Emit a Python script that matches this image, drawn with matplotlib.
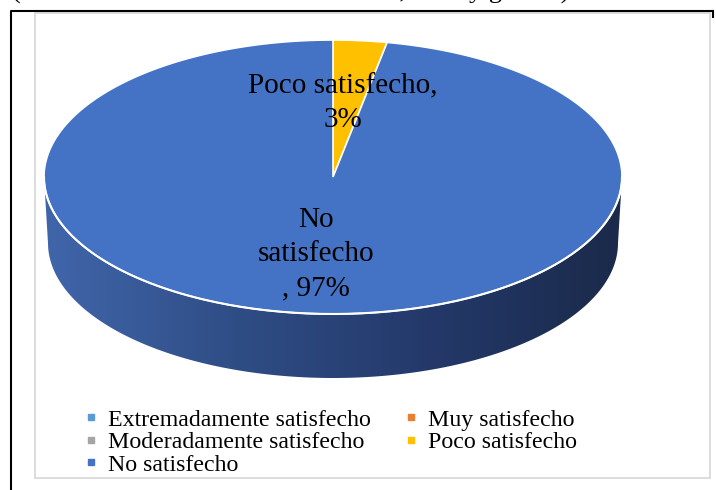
import numpy as np
import matplotlib.pyplot as plt
from matplotlib.patches import Polygon, Rectangle
from matplotlib.lines import Line2D
from matplotlib.colors import LinearSegmentedColormap

# datos
categorias = ['Extremadamente satisfecho', 'Muy satisfecho', 'Moderadamente satisfecho',
              'Poco satisfecho', 'No satisfecho']
porcentajes = [0, 0, 0, 3, 97]
colores = ['#5B9BD5', '#ED7D31', '#A5A5A5', '#FFC000', '#4472C4']
etiquetas = {3: 'Poco satisfecho,\n3%', 4: 'No\nsatisfecho\n, 97%'}
titulo = '(Nivel de satisfacción de los clientes, edad y género)'

serif = 'Liberation Serif'

fig = plt.figure(figsize=(7.16, 4.9), dpi=100)
ax = fig.add_axes([0, 0, 1, 1])
ax.set_xlim(0, 716)
ax.set_ylim(490, 0)
ax.axis('off')

# marco del documento y del grafico
ax.plot([11, 11, 713], [490, 11, 11], color='black', lw=1.5, solid_capstyle='butt')
ax.plot([713, 713], [11, 17], color='black', lw=1.5)
ax.add_patch(Rectangle((35, 13), 675, 465, fill=False, ec='#D9D9D9', lw=1.3))
ax.text(12, -1, titulo, ha='left', va='baseline', fontsize=19, family=serif)

# geometria del pastel 3D
cx, cy, a, b, prof = 333, 177, 289, 137, 66
a2, b2 = 285, 135


def punto(th, cx=cx, cy=cy, a=a, b=b):
    th = np.radians(th)
    return cx + a * np.sin(th), cy - b * np.cos(th)


# lateral (frente)
t1 = np.linspace(90, 270, 200)
x1, y1 = punto(t1)
x2, y2 = punto(t1[::-1], cy=cy + prof, a=a2, b=b2)
lado = Polygon(np.column_stack([np.r_[x1, x2], np.r_[y1, y2]]), closed=True,
               fc='none', ec='none')
ax.add_patch(lado)
cmap = LinearSegmentedColormap.from_list('lado', ['#4066AA', '#2F4D85', '#24396A', '#1B2A4A'])
grad = np.linspace(0, 1, 256).reshape(1, -1)
im = ax.imshow(grad, cmap=cmap, aspect='auto', extent=(cx - a, cx + a, cy + prof + b2, cy - 5),
               zorder=1)
im.set_clip_path(lado)

# cara superior
total = sum(porcentajes)
inicio = 0
for cat, v, c in zip(categorias, porcentajes, colores):
    if v == 0:
        continue
    fin = inicio + v / total * 360
    th = np.linspace(inicio, fin, 300)
    xs, ys = punto(th)
    pts = np.column_stack([np.r_[cx, xs], np.r_[cy, ys]])
    ax.add_patch(Polygon(pts, closed=True, fc=c, ec='white', lw=1.2, zorder=2))
    inicio = fin

# borde blanco entre cara y lateral
ax.plot(x1, y1, color='white', lw=1.5, zorder=3)

# etiquetas de datos
ax.text(343, 103, etiquetas[3], ha='center', va='center', fontsize=21, family=serif,
        linespacing=1.4, zorder=4)
ax.text(316, 254, etiquetas[4], ha='center', va='center', fontsize=21, family=serif,
        linespacing=1.4, zorder=4)

# leyenda (orden por filas como Excel)
orden = [0, 2, 4, 1, 3]
handles = [Line2D([], [], marker='s', ls='', color=colores[i], markersize=4.5) for i in orden]
labels = [categorias[i] for i in orden]
ax.legend(handles, labels, loc='upper left', bbox_to_anchor=(84, 409),
          bbox_transform=ax.transData, ncol=2, frameon=False,
          prop=dict(family=serif, size=17.2), handlelength=0.6, handletextpad=0.4,
          columnspacing=1.4, labelspacing=0.03, borderpad=0, borderaxespad=0)

fig.savefig('out.png', dpi=100)
